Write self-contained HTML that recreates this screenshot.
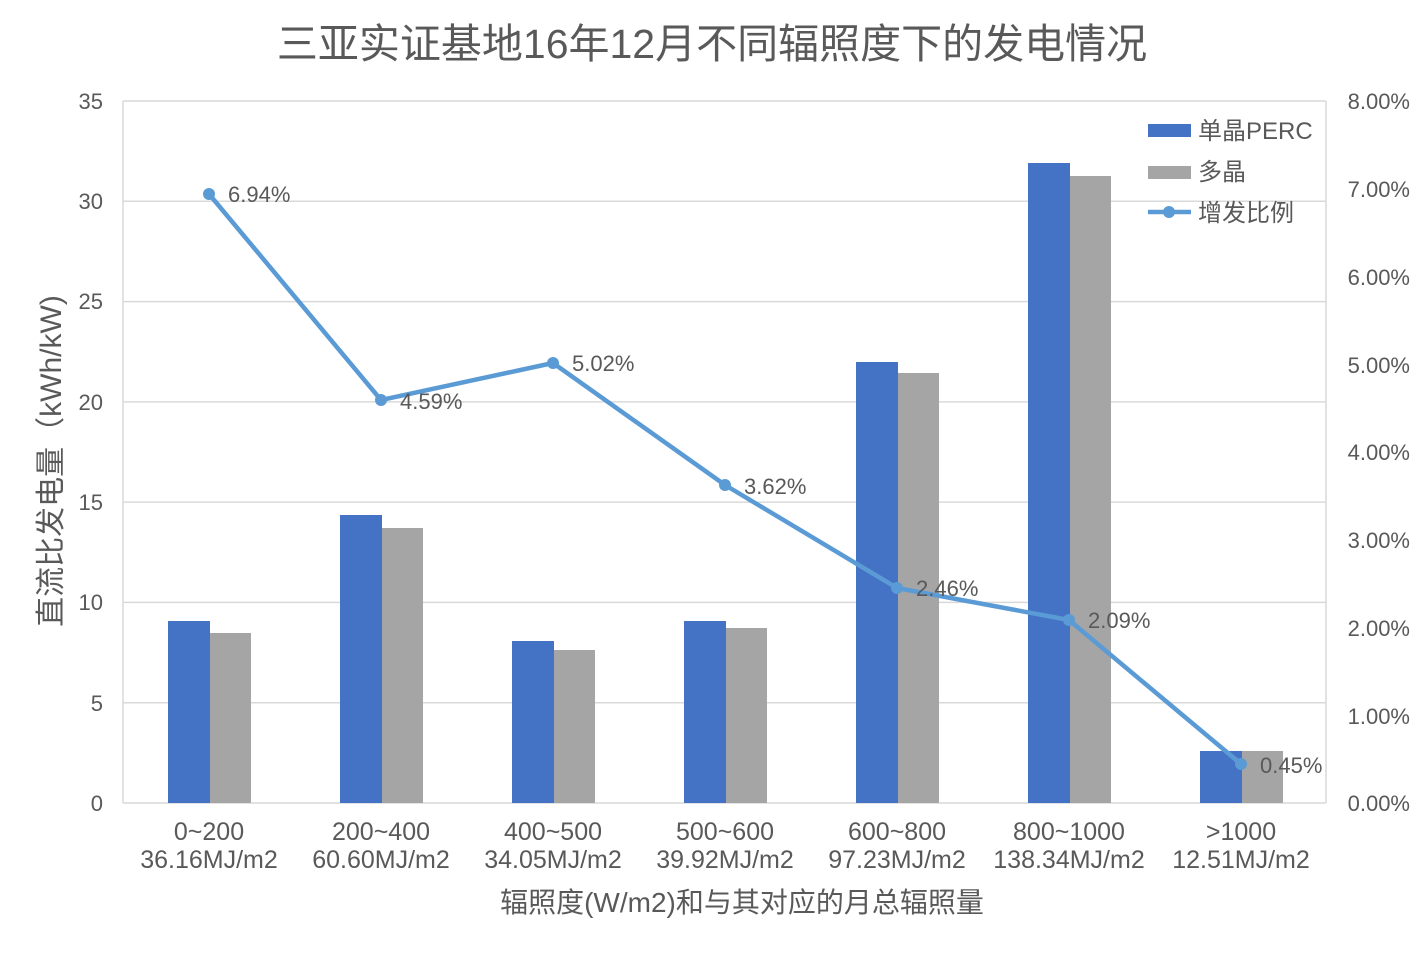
<!DOCTYPE html>
<html><head><meta charset="utf-8"><style>
body{margin:0;background:#fff;}
text{font-family:"Liberation Sans","Noto Sans CJK SC",sans-serif;fill:#595959;}
</style></head><body>
<svg width="1424" height="949" viewBox="0 0 1424 949" xmlns="http://www.w3.org/2000/svg">
<rect width="1424" height="949" fill="#fff"/>
<text x="712" y="58" font-size="41" text-anchor="middle">三亚实证基地16年12月不同辐照度下的发电情况</text>
<g stroke="#d9d9d9" stroke-width="1.5">
<line x1="123" y1="101" x2="1326" y2="101"/>
<line x1="123" y1="201.3" x2="1326" y2="201.3"/>
<line x1="123" y1="301.6" x2="1326" y2="301.6"/>
<line x1="123" y1="401.9" x2="1326" y2="401.9"/>
<line x1="123" y1="502.1" x2="1326" y2="502.1"/>
<line x1="123" y1="602.4" x2="1326" y2="602.4"/>
<line x1="123" y1="702.7" x2="1326" y2="702.7"/>
<line x1="123" y1="101" x2="123" y2="803"/>
<line x1="1326" y1="101" x2="1326" y2="803"/>
<line x1="123" y1="803" x2="1326" y2="803"/>
</g>
<g fill="#4472c4">
<rect x="168" y="621" width="42" height="182"/>
<rect x="340" y="515" width="42" height="288"/>
<rect x="512" y="641" width="42" height="162"/>
<rect x="684" y="621" width="42" height="182"/>
<rect x="856" y="362" width="42" height="441"/>
<rect x="1028" y="163" width="42" height="640"/>
<rect x="1200" y="751" width="42" height="52"/>
</g>
<g fill="#a5a5a5">
<rect x="210" y="633" width="41" height="170"/>
<rect x="382" y="528" width="41" height="275"/>
<rect x="554" y="650" width="41" height="153"/>
<rect x="726" y="628" width="41" height="175"/>
<rect x="898" y="373" width="41" height="430"/>
<rect x="1070" y="176" width="41" height="627"/>
<rect x="1242" y="751" width="41" height="52"/>
</g>
<polyline points="209,194 381,400 553,363 725,485 897,588 1069,620 1241,764" fill="none" stroke="#5b9bd5" stroke-width="4.5" stroke-linejoin="round"/>
<g fill="#5b9bd5">
<circle cx="209" cy="194" r="6"/><circle cx="381" cy="400" r="6"/><circle cx="553" cy="363" r="6"/><circle cx="725" cy="485" r="6"/><circle cx="897" cy="588" r="6"/><circle cx="1069" cy="620" r="6"/><circle cx="1241" cy="764" r="6"/>
</g>
<g font-size="22">
<text x="228" y="202">6.94%</text>
<text x="400" y="409">4.59%</text>
<text x="572" y="371">5.02%</text>
<text x="744" y="494">3.62%</text>
<text x="916" y="596">2.46%</text>
<text x="1088" y="628">2.09%</text>
<text x="1260" y="773">0.45%</text>
</g>
<g font-size="22" text-anchor="end">
<text x="103" y="109">35</text><text x="103" y="209">30</text><text x="103" y="309">25</text><text x="103" y="410">20</text><text x="103" y="510">15</text><text x="103" y="610">10</text><text x="103" y="711">5</text><text x="103" y="811">0</text>
</g>
<g font-size="22" text-anchor="end">
<text x="1410" y="109">8.00%</text><text x="1410" y="197">7.00%</text><text x="1410" y="285">6.00%</text><text x="1410" y="373">5.00%</text><text x="1410" y="460">4.00%</text><text x="1410" y="548">3.00%</text><text x="1410" y="636">2.00%</text><text x="1410" y="724">1.00%</text><text x="1410" y="811">0.00%</text>
</g>
<g font-size="25" text-anchor="middle">
<text x="209" y="840">0~200</text><text x="209" y="868">36.16MJ/m2</text>
<text x="381" y="840">200~400</text><text x="381" y="868">60.60MJ/m2</text>
<text x="553" y="840">400~500</text><text x="553" y="868">34.05MJ/m2</text>
<text x="725" y="840">500~600</text><text x="725" y="868">39.92MJ/m2</text>
<text x="897" y="840">600~800</text><text x="897" y="868">97.23MJ/m2</text>
<text x="1069" y="840">800~1000</text><text x="1069" y="868">138.34MJ/m2</text>
<text x="1241" y="840">&gt;1000</text><text x="1241" y="868">12.51MJ/m2</text>
</g>
<text x="742" y="912" font-size="28" text-anchor="middle">辐照度(W/m2)和与其对应的月总辐照量</text>
<text transform="translate(61,461) rotate(-90)" font-size="30" text-anchor="middle">直流比发电量（kWh/kW)</text>
<rect x="1148" y="124" width="43" height="13" fill="#4472c4"/>
<text x="1198" y="139" font-size="24">单晶PERC</text>
<rect x="1148" y="166" width="43" height="13" fill="#a5a5a5"/>
<text x="1198" y="180" font-size="24">多晶</text>
<line x1="1148" y1="212" x2="1191" y2="212" stroke="#5b9bd5" stroke-width="4.5"/>
<circle cx="1169" cy="212" r="6" fill="#5b9bd5"/>
<text x="1198" y="221" font-size="24">增发比例</text>
</svg>
</body></html>
